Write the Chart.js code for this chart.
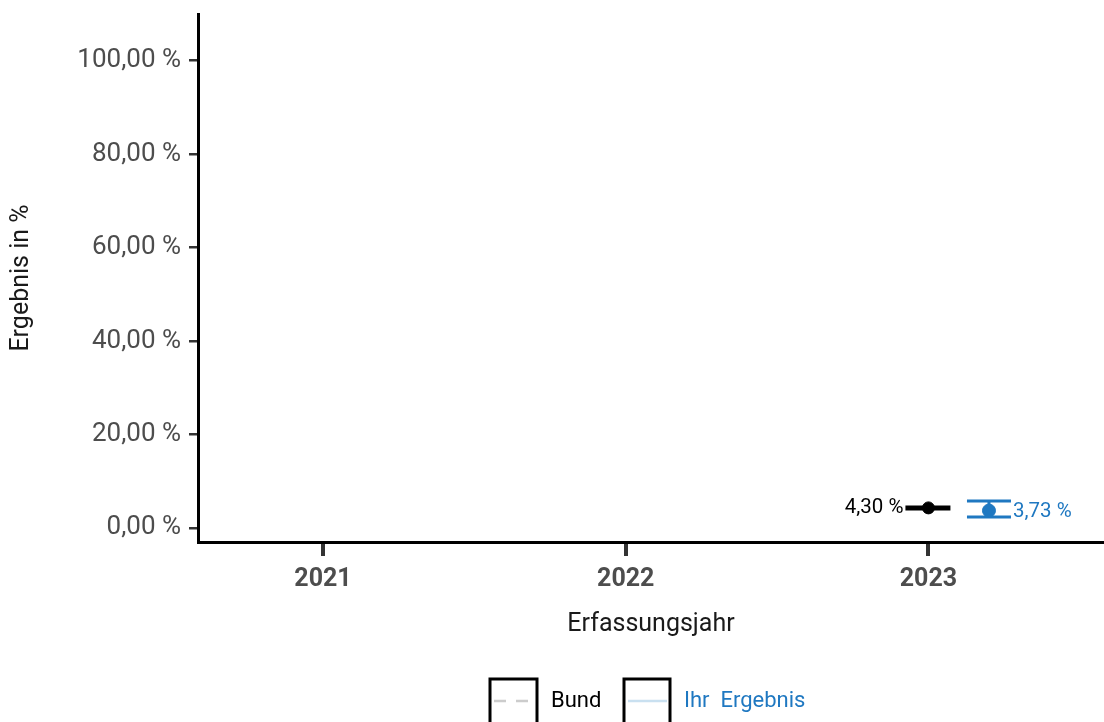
<!DOCTYPE html>
<html>
<head>
<meta charset="utf-8">
<script src="https://cdn.jsdelivr.net/npm/chart.js@4"></script>
<style>
  html, body { margin: 0; padding: 0; background: #fff; }
  #wrap { width: 1104px; height: 722px; }
</style>
</head>
<body>
<div id="wrap"><canvas id="qiChart" width="1104" height="722"></canvas></div>
<script>
const years = [2021, 2022, 2023];
const bundValues = [null, null, 4.30];
const ihrValues = [null, null, 3.73];
const ihrLower = [null, null, 2.35];
const ihrUpper = [null, null, 5.77];
const yTicks = [0, 20, 40, 60, 80, 100];
const legendLabels = ["Bund", "Ihr  Ergebnis"];

const BLUE = "#1f78c1";
const DODGE = 0.2;
const FONT = "Roboto, 'Noto Sans', sans-serif";

function fmt(v){
  return v.toFixed(2).replace(".", ",") + " %";
}

const bundPts = [];
const ihrPts = [];
years.forEach((y, i) => {
  if (bundValues[i] != null) bundPts.push({x: y, y: bundValues[i]});
  if (ihrValues[i] != null) ihrPts.push({x: y + DODGE, y: ihrValues[i], lo: ihrLower[i], hi: ihrUpper[i]});
});

// error bars, value labels and the boxed legend
const extras = {
  id: "extras",
  beforeDatasetsDraw(chart){
    const {ctx, scales: {x, y}} = chart;
    ctx.save();
    bundPts.forEach(p => {
      const px = x.getPixelForValue(p.x), py = y.getPixelForValue(p.y);
      ctx.strokeStyle = "#000"; ctx.lineWidth = 5;
      ctx.beginPath(); ctx.moveTo(px - 23, py); ctx.lineTo(px + 22, py); ctx.stroke();
    });
    ihrPts.forEach(p => {
      const px = x.getPixelForValue(p.x);
      const pl = y.getPixelForValue(p.lo), ph = y.getPixelForValue(p.hi);
      ctx.strokeStyle = BLUE; ctx.lineWidth = 3;
      ctx.beginPath();
      ctx.moveTo(px - 22, ph); ctx.lineTo(px + 22, ph);
      ctx.moveTo(px - 22, pl); ctx.lineTo(px + 22, pl);
      ctx.moveTo(px, ph); ctx.lineTo(px, pl);
      ctx.stroke();
    });
    ctx.restore();
  },
  afterDraw(chart){
    const {ctx, scales: {x, y}} = chart;
    ctx.save();
    ctx.font = "20.5px " + FONT;
    ctx.textBaseline = "middle";
    bundPts.forEach(p => {
      ctx.fillStyle = "#000"; ctx.textAlign = "right";
      ctx.fillText(fmt(p.y), x.getPixelForValue(p.x) - 25, y.getPixelForValue(p.y));
    });
    ihrPts.forEach(p => {
      ctx.fillStyle = BLUE; ctx.textAlign = "left";
      ctx.fillText(fmt(p.y), x.getPixelForValue(p.x) + 24, y.getPixelForValue(p.y) + 1);
    });

    // legend
    ctx.lineWidth = 3; ctx.strokeStyle = "#000";
    ctx.strokeRect(490, 679, 47, 60);
    ctx.strokeRect(624, 679, 46, 60);
    ctx.strokeStyle = "#cccccc"; ctx.lineWidth = 2.5; ctx.setLineDash([12, 10]);
    ctx.beginPath(); ctx.moveTo(494, 701); ctx.lineTo(534, 701); ctx.stroke();
    ctx.setLineDash([]);
    ctx.strokeStyle = "#c9e0f0";
    ctx.beginPath(); ctx.moveTo(628, 701); ctx.lineTo(667, 701); ctx.stroke();
    ctx.font = "22px " + FONT; ctx.textAlign = "left";
    ctx.fillStyle = "#000"; ctx.fillText(legendLabels[0], 551, 701);
    ctx.fillStyle = BLUE; ctx.fillText(legendLabels[1], 684, 701);
    ctx.restore();
  }
};

new Chart(document.getElementById("qiChart"), {
  type: "scatter",
  data: {
    datasets: [
      { label: legendLabels[0], data: bundPts, backgroundColor: "#000", borderColor: "#000", pointRadius: 6 },
      { label: legendLabels[1], data: ihrPts, backgroundColor: BLUE, borderColor: BLUE, pointRadius: 6.5 }
    ]
  },
  options: {
    responsive: false,
    animation: false,
    layout: { autoPadding: false, padding: { left: 7, top: 14, right: 0, bottom: 82 } },
    plugins: { legend: { display: false }, tooltip: { enabled: false } },
    scales: {
      x: {
        type: "linear",
        min: 2020.587, max: 2023.58,
        afterBuildTicks: s => { s.ticks = years.map(v => ({value: v})); },
        afterFit: s => { s.height = 98; s.paddingLeft = 0; s.paddingRight = 0; },
        border: { display: true, color: "#000", width: 3 },
        grid: { drawOnChartArea: false, drawTicks: true, tickLength: 14, tickColor: "#333", lineWidth: 4 },
        ticks: { color: "#4d4d4d", padding: 9, font: { family: FONT, size: 25, weight: "bold" }, callback: v => String(v) },
        title: { display: true, text: "Erfassungsjahr", color: "#1a1a1a", padding: 0, font: { family: FONT, size: 25 } }
      },
      y: {
        min: -3, max: 110,
        afterBuildTicks: s => { s.ticks = yTicks.map(v => ({value: v})); },
        afterFit: s => { s.width = 191; s.paddingTop = 0; s.paddingBottom = 0; },
        border: { display: true, color: "#000", width: 3 },
        grid: { drawOnChartArea: false, drawTicks: true, tickLength: 9, tickColor: "#333", lineWidth: 2.5 },
        ticks: { color: "#4d4d4d", padding: 8, font: { family: FONT, size: 26 }, callback: v => fmt(v) },
        title: { display: true, text: "Ergebnis in %", color: "#1a1a1a", padding: 0, font: { family: FONT, size: 25 } }
      }
    }
  },
  plugins: [extras]
});
</script>
</body>
</html>
